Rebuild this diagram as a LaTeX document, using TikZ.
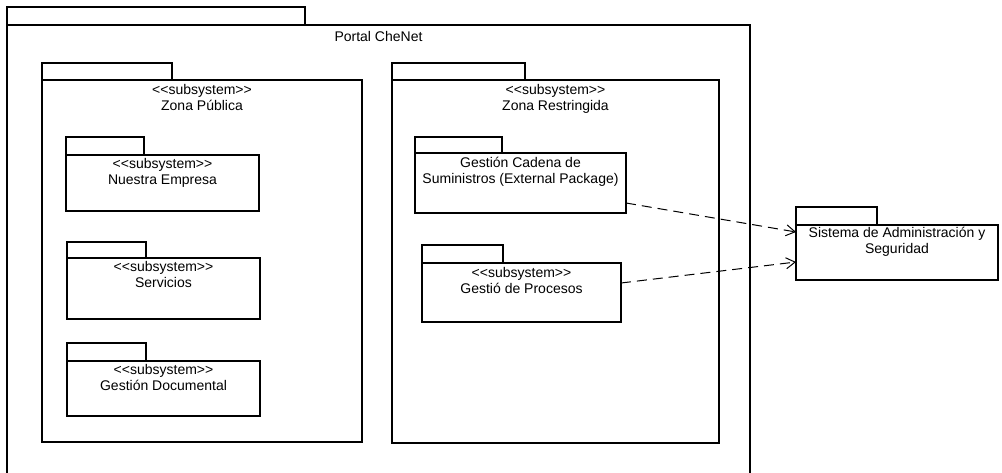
\documentclass[tikz,border=0pt]{standalone}
\usepackage{fontspec}
\newfontfamily\umlfont{Liberation Sans}
\usetikzlibrary{positioning,arrows.meta}

\begin{document}
\begin{tikzpicture}[x=1pt, y=-1pt]
  % Styling
  \tikzset{
    pkg/.style={
      rectangle,
      draw=black,
      line width=1.2pt,
      inner sep=0pt,
      outer sep=0pt,
      anchor=north west
    },
    tab/.style={
      pkg,
      anchor=south west
    },
    pkgLabel/.style={
      font=\umlfont\fontsize{14}{16}\selectfont,
      align=center,
      anchor=north,
      inner sep=0pt
    },
    dep/.style={
      -{Straight Barb[length=9pt, width=11pt]},
      line width=1pt,
      dash pattern=on 10pt off 6pt,
      black
    }
  }
  \useasboundingbox (0,0) rectangle (1002,473);
  \clip (0,0) rectangle (1002,473);

  % ===== Portal CheNet =====
  \node[pkg, minimum width=743pt, minimum height=470pt] (portal) at (7,25) {};
  \node[tab, minimum width=298pt, minimum height=18pt] (portalTab) at (portal.north west) {};
  \node[pkgLabel] (portalTxt) at ([yshift=-6pt]portal.north) {Portal CheNet};

  % ===== Zona Publica =====
  \node[pkg, minimum width=320pt, minimum height=362pt] (publica) at (42,80) {};
  \node[tab, minimum width=130pt, minimum height=17pt] (publicaTab) at (publica.north west) {};
  \node[pkgLabel] (publicaTxt) at ([yshift=-4pt]publica.north) {<<subsystem>>\\Zona Pública};

  \node[pkg, minimum width=193pt, minimum height=56pt] (empresa) at (66,155) {};
  \node[tab, minimum width=78pt, minimum height=18pt] (empresaTab) at (empresa.north west) {};
  \node[pkgLabel] (empresaTxt) at ([yshift=-3pt]empresa.north) {<<subsystem>>\\Nuestra Empresa};

  \node[pkg, minimum width=193pt, minimum height=61pt] (servicios) at (67,258) {};
  \node[tab, minimum width=79pt, minimum height=16pt] (serviciosTab) at (servicios.north west) {};
  \node[pkgLabel] (serviciosTxt) at ([yshift=-3pt]servicios.north) {<<subsystem>>\\Servicios};

  \node[pkg, minimum width=193pt, minimum height=55pt] (documental) at (67,361) {};
  \node[tab, minimum width=79pt, minimum height=18pt] (documentalTab) at (documental.north west) {};
  \node[pkgLabel] (documentalTxt) at ([yshift=-3pt]documental.north) {<<subsystem>>\\Gestión Documental};

  % ===== Zona Restringida =====
  \node[pkg, minimum width=327pt, minimum height=363pt] (restringida) at (392,80) {};
  \node[tab, minimum width=133pt, minimum height=17pt] (restringidaTab) at (restringida.north west) {};
  \node[pkgLabel] (restringidaTxt) at ([yshift=-4pt]restringida.north) {<<subsystem>>\\Zona Restringida};

  \node[pkg, minimum width=211pt, minimum height=60pt] (cadena) at (415,153) {};
  \node[tab, minimum width=87pt, minimum height=16pt] (cadenaTab) at (cadena.north west) {};
  \node[pkgLabel] (cadenaTxt) at ([yshift=-4pt]cadena.north) {Gestión Cadena de\\Suministros (External Package)};

  \node[pkg, minimum width=199pt, minimum height=59pt] (procesos) at (422,263) {};
  \node[tab, minimum width=81pt, minimum height=18pt] (procesosTab) at (procesos.north west) {};
  \node[pkgLabel] (procesosTxt) at ([yshift=-4pt]procesos.north) {<<subsystem>>\\Gestió de Procesos};

  % ===== Sistema externo =====
  \node[pkg, minimum width=202pt, minimum height=55pt] (sistema) at (796,225) {};
  \node[tab, minimum width=81pt, minimum height=18pt] (sistemaTab) at (sistema.north west) {};
  \node[pkgLabel] (sistemaTxt) at ([yshift=-2pt]sistema.north) {Sistema de Administración y\\Seguridad};

  % Dependencias
  \draw[dep] ([yshift=10pt]cadena.south east) -- ([yshift=-7pt]sistema.north west);
  \draw[dep] ([yshift=-20pt]procesos.north east) -- ([yshift=-37pt]sistema.north west);

\end{tikzpicture}
\end{document}
